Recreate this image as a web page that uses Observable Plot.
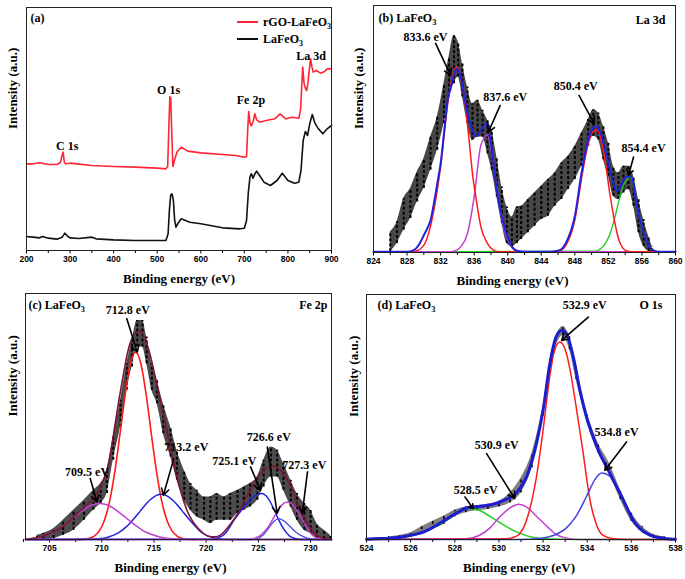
<!DOCTYPE html>
<html><head><meta charset="utf-8">
<script src="https://cdn.jsdelivr.net/npm/d3@7"></script>
<script src="https://cdn.jsdelivr.net/npm/@observablehq/plot@0.6"></script>
<style>
body{margin:0;background:#fff}
#fig{position:relative;width:685px;height:579px;background:#fff;overflow:hidden}
.panel{position:absolute}
.panel svg{overflow:visible;max-width:none;background:transparent}
g[aria-label="x-axis tick label"]{font-family:"Liberation Sans",Arial,sans-serif;font-size:8.5px;font-weight:bold}
.legend{position:absolute;font:bold 12px "Liberation Serif",serif;color:#000}
</style></head><body><div id="fig"></div>
<script>
// ---------------- data ----------------
// (a) survey spectra: [binding energy eV, intensity a.u.]
const aTicks = [200,300,400,500,600,700,800,900];
const aMinor = [250,350,450,550,650,750,850];
const aBlack = [[200,40],[215,38],[230,36],[237,40],[250,35],[270,32],[282,38],[288,50],[295,40],[300,36],[320,34],[350,38],[360,33],[400,30],[450,28],[500,28],[520,28],[525,48],[528,120],[531,165],[534,168],[537,150],[540,90],[543,68],[548,80],[555,93],[575,83],[600,78],[650,66],[690,63],[700,65],[705,88],[709,170],[713,220],[716,228],[720,215],[724,228],[728,236],[735,223],[745,203],[760,193],[775,208],[787,230],[800,208],[815,200],[825,203],[830,238],[835,328],[840,355],[845,343],[850,378],[856,406],[862,380],[870,363],[880,348],[890,363],[900,373]];
const aRed = [[200,258],[215,258],[230,261],[250,256],[270,256],[278,262],[281,280],[284,293],[287,262],[290,258],[300,260],[350,253],[400,250],[450,248],[500,245],[520,243],[524,250],[527,380],[529,460],[531,455],[533,370],[536,250],[540,270],[545,293],[555,308],[570,296],[600,291],[650,286],[680,283],[700,278],[705,280],[708,368],[710,415],[713,380],[716,372],[720,385],[724,408],[728,390],[735,383],[750,388],[770,393],[782,408],[795,393],[810,398],[825,395],[829,420],[832,500],[834,548],[837,500],[840,485],[843,478],[846,500],[849,540],[852,573],[855,550],[858,533],[865,538],[875,530],[885,536],[890,543],[900,543]];
const aPeakNames = ["C 1s","O 1s","Fe 2p","La 3d"];
const aPeakPos = [[293.6,311],[526,478],[715,448],[853,582]];

// (b) La 3d
const bTicks = [824,828,832,836,840,844,848,852,856,860];
const bMinor = [826,830,834,838,842,846,850,854,858];
const bNoise = [[826.0,0,60],[826.8,25,90],[827.6,65,160],[828.4,100,190],[829.2,150,240],[830.0,190,280],[830.8,245,345],[831.6,305,405],[832.4,385,505],[833.0,465,585],[833.6,505,650],[834.1,525,630],[834.6,465,565],[835.2,385,495],[835.8,335,445],[836.4,345,455],[837.0,345,425],[837.6,295,395],[838.1,245,365],[838.7,165,285],[839.3,85,195],[839.9,25,135],[840.5,15,105],[841.1,25,135],[841.6,37,137],[842.4,57,157],[843.2,77,177],[844.0,97,197],[844.8,107,217],[845.6,137,237],[846.4,157,267],[847.2,187,287],[848.0,217,317],[848.8,257,357],[849.6,317,397],[850.2,347,427],[850.8,337,417],[851.4,277,377],[852.0,227,327],[852.6,167,257],[853.2,157,237],[853.8,177,257],[854.4,187,257],[855.0,137,227],[855.6,57,157],[856.2,17,97],[856.8,2,47],[857.2,0,17]];
const bEnvelope = [[824,0],[828.0,0],[828.8,5],[829.5,25],[830.0,50],[830.5,75],[830.8,95],[831.3,160],[831.6,205],[832.0,265],[832.5,380],[832.9,465],[833.2,490],[833.5,525],[833.9,550],[834.3,535],[834.8,470],[835.2,415],[835.8,365],[836.2,347],[836.8,365],[837.4,385],[837.8,355],[838.1,305],[838.7,185],[839.5,85],[840.3,25],[841.1,3],[842.0,0],[845.0,0],[846.2,5],[847.0,30],[848.0,107],[848.8,237],[849.6,337],[850.2,372],[850.6,377],[851.2,347],[852.0,267],[852.5,215],[853.0,182],[853.5,200],[854.0,222],[854.7,227],[855.4,137],[856.2,57],[857.2,7],[858,0],[860,0]];
const bRed = [[824,0],[828.0,0],[829.0,2],[830.0,20],[831.0,100],[832.0,255],[832.9,455],[833.5,535],[833.9,557],[834.3,535],[834.8,465],[835.4,335],[835.8,235],[836.2,165],[836.8,75],[837.6,25],[838.3,5],[839.0,0],[845.0,0],[846.2,3],[847.0,22],[848.0,95],[848.8,220],[849.6,325],[850.2,362],[850.6,366],[851.2,330],[851.8,240],[852.2,170],[852.7,97],[853.2,40],[853.7,12],[854.3,2],[855.0,0],[860,0]];
const bMagenta = [[824,0],[833.0,0],[833.6,2],[834.4,15],[835.2,55],[836.0,165],[836.8,320],[837.55,350],[838.3,260],[838.9,160],[839.5,75],[840.3,20],[841.1,3],[842.0,0],[860,0]];
const bGreen = [[828.8,0],[850.5,2],[851.0,8],[851.5,20],[851.9,37],[852.3,62],[852.7,97],[853.3,157],[853.8,200],[854.3,220],[854.7,225],[855.4,137],[856.2,57],[857.2,7],[858,0],[860,0]];
const bNotes = ["833.6 eV","837.6 eV","850.4 eV","854.4 eV"];
const bNotePos = [[830.2,644],[839.7,464],[848.1,497],[856.2,310]];
const bArrows = [[831.4,626,833.2,530],[839.1,440,837.7,360],[848.5,470,850.3,385],[855.0,285,854.4,230]];

// (c) Fe 2p
const cTicks = [705,710,715,720,725,730];
const cMinor = [702.5,707.5,712.5,717.5,722.5,727.5];
const cNoise = [[703.8,0,13],[704.4,0,18],[705.4,3,33],[706.3,13,58],[707.3,28,88],[708.3,58,118],[709.2,88,148],[709.9,108,168],[710.5,138,208],[711.1,238,308],[711.8,338,418],[712.4,448,528],[712.9,518,598],[713.4,578,658],[713.9,578,658],[714.3,528,608],[714.8,448,528],[715.3,408,478],[715.9,318,408],[716.6,248,338],[717.2,178,268],[717.9,118,208],[718.5,88,168],[719.1,68,148],[719.8,58,128],[720.4,48,128],[721.0,58,138],[721.7,58,128],[722.3,58,138],[723.0,78,148],[723.6,88,158],[724.2,98,168],[724.9,118,188],[725.5,158,238],[726.2,188,278],[726.8,188,268],[727.4,148,228],[728.1,98,178],[728.7,58,138],[729.4,28,108],[730.0,18,88],[730.6,3,48],[731.3,0,28],[731.9,0,13]];
const cEnvelope = [[702.7,0],[703.8,6],[705.1,19],[706.0,33],[706.7,50],[707.9,85],[709.2,125],[710.2,180],[710.7,235],[711.1,310],[711.6,410],[712.1,500],[712.5,565],[712.9,605],[713.3,622],[713.7,626],[714.1,605],[714.5,570],[714.9,520],[715.3,462],[715.8,390],[716.3,318],[716.8,245],[717.2,188],[717.7,130],[718.2,85],[718.7,55],[719.1,38],[719.6,22],[720.2,10],[720.8,8],[721.4,14],[722.3,45],[723.3,92],[724.2,148],[725.2,198],[725.8,215],[726.4,220],[726.9,214],[727.4,198],[727.8,178],[728.3,145],[728.7,108],[729.2,75],[729.7,48],[730.2,25],[730.6,13],[731.1,5],[731.6,2],[732,0]];
const cRed = [[702.7,0],[707.5,0],[708.25,1],[708.75,3],[709.25,9.5],[709.75,25],[710.25,57],[710.75,114],[711.25,203],[711.75,317],[712.25,436],[712.75,528],[713.25,563],[713.75,528],[714.25,436],[714.75,317],[715.25,203],[715.75,114],[716.25,57],[716.75,25],[717.25,9.5],[717.75,3],[718.25,1],[719,0],[732,0]];
const cMagentaL = [[702.7,1],[703.8,5],[704.3,10],[704.8,15],[705.3,21],[705.8,30],[706.3,41],[706.8,53],[707.3,66],[707.8,78],[708.3,90],[708.8,100],[709.3,106],[709.8,108],[710.3,106],[710.8,100],[711.3,90],[711.8,78],[712.3,66],[712.8,53],[713.3,41],[713.8,30],[714.3,21],[714.8,15],[715.3,10],[715.8,6],[716.8,2],[717.8,0.5],[719,0]];
const cBlueL = [[702.7,0],[708,0],[710.2,4],[710.7,8],[711.2,14],[711.7,22],[712.2,34],[712.7,49],[713.2,67],[713.7,86],[714.2,105],[714.7,121],[715.2,132],[715.7,136],[716.2,132],[716.7,121],[717.2,105],[717.7,86],[718.2,67],[718.7,49],[719.2,32],[719.7,18],[720.2,10],[720.7,5],[721.2,2],[722,0],[732,0]];
const cBlueA = [[702.7,0],[720.5,1],[721.5,10],[722.0,25],[722.6,55],[723.3,85],[724.0,112],[724.6,130],[725.3,138],[725.9,125],[726.5,90],[727.0,55],[727.5,28],[728.0,10],[728.5,3],[729.2,0],[732,0]];
const cBlueB = [[702.7,0],[724.3,0],[724.9,3],[725.5,15],[726.0,35],[726.5,55],[726.95,63],[727.5,55],[728.0,40],[728.6,22],[729.2,10],[729.8,3],[730.4,0],[732,0]];
const cMagentaR = [[702.7,0],[724.0,0],[724.6,3],[725.3,15],[726.0,40],[726.5,68],[727.0,95],[727.8,113],[728.4,100],[729.0,70],[729.6,38],[730.2,12],[730.8,3],[731.5,0],[732,0]];
const cNotes = ["712.8 eV","709.5 eV","713.2 eV","725.1 eV","726.6 eV","727.3 eV"];
const cNotePos = [[712.5,688],[708.6,203],[718.1,278],[722.7,236],[726.0,308],[729.4,223]];
const cArrows = [[712.4,663,713.4,563],[708.9,183,709.55,113],[716.9,243,715.9,133],[724.25,218,725.2,148],[725.85,278,726.8,78],[729.7,203,729.2,78]];

// (d) O 1s
const dTicks = [524,526,528,530,532,534,536,538];
const dMinor = [525,527,529,531,533,535,537];
const dNoise = [[525.0,0,8],[525.5,2,12],[526.0,8,20],[526.5,15,38],[527.0,30,55],[527.5,45,70],[528.0,68,88],[528.5,80,98],[529.0,86,102],[529.5,90,106],[530.0,98,115],[530.5,110,140],[531.0,140,185],[531.5,215,260],[532.0,370,400],[532.5,560,590],[532.9,612,640],[533.2,570,610],[533.5,480,520],[534.0,350,380],[534.5,260,290],[535.0,200,230],[535.5,120,150],[536.0,55,80],[536.5,20,38],[537.0,5,15],[537.5,0,8]];
const dEnvelope = [[524,1],[524.3,2],[525.06,4],[525.8,10],[526.6,23],[527.3,48],[528.1,80],[528.5,94],[529.1,99],[529.7,105],[530.3,120],[530.8,140],[531.25,188],[531.7,288],[532.0,388],[532.3,525],[532.6,610],[532.84,628],[533.06,618],[533.37,548],[533.67,448],[533.97,368],[534.27,308],[534.57,258],[534.88,218],[535.18,178],[535.48,140],[535.78,98],[536.08,58],[536.39,33],[536.84,13],[537.3,5],[537.9,1],[538,1]];
const dRed = [[524,0],[530.3,2],[530.8,10],[531.25,58],[531.7,188],[532.0,328],[532.3,488],[532.5,563],[532.76,593],[532.99,573],[533.2,518],[533.5,398],[533.8,268],[534.1,128],[534.4,48],[534.7,13],[535.2,2],[535.8,0],[538,0]];
const dMagenta = [[524,0],[528.5,2],[529.1,12],[529.6,35],[530.0,65],[530.5,95],[530.9,106],[531.25,98],[531.7,70],[532.2,38],[532.6,15],[533.06,4],[533.7,0],[538,0]];
const dGreen = [[524,0],[525.06,3],[525.8,8],[526.6,22],[527.3,45],[527.9,70],[528.6,93],[529.1,88],[529.7,65],[530.3,40],[530.9,20],[531.5,7],[532.2,2],[533.4,0],[538,0]];
const dBlue = [[524,0],[531.0,0],[531.85,3],[532.46,12],[533.06,35],[533.5,70],[533.97,130],[534.35,180],[534.65,200],[535.03,190],[535.48,140],[535.93,80],[536.39,33],[536.84,13],[537.44,3],[538,0]];
const dNotes = ["532.9 eV","534.8 eV","530.9 eV","528.5 eV"];
const dNotePos = [[533.89,703],[535.33,323],[529.9,283],[528.95,148]];
const dArrows = [[534.05,668,532.84,598],[535.78,293,534.8,208],[529.44,258,530.72,123],[528.46,128,528.83,93]];

// ---------------- helpers ----------------
const serif = '"Liberation Serif","Times New Roman",serif';
const sans = '"Liberation Sans",Arial,sans-serif';
const RED = "#ff1a1a", MAG = "#c040d0", BLUE = "#2222dd", GREEN = "#22cc22", MAROON = "#7d1436";
const xy = arr => arr.map(([x, y]) => ({x, y}));
const band = arr => arr.map(([x, lo, hi]) => ({x, lo, hi}));
const notes = (txt, pos) => txt.map((t, i) => ({t, x: pos[i][0], y: pos[i][1]}));
const arrows = arr => arr.map(([x1, y1, x2, y2]) => ({x1, y1, x2, y2}));

function line(arr, stroke, w, curve = "monotone-x") {
  return Plot.line(xy(arr), {x: "x", y: "y", stroke, strokeWidth: w, curve});
}
function noise(arr, opacity, w) {
  return [
    Plot.areaY(band(arr), {x: "x", y1: "lo", y2: "hi", fill: "#000", fillOpacity: opacity, curve: "monotone-x"}),
    Plot.ruleX(band(arr), {x: "x", y1: "lo", y2: "hi", stroke: "#000", strokeWidth: w, strokeDasharray: "3,2"})
  ];
}
function axes(major, minor) {
  return [
    Plot.axisX({ticks: minor, tickSize: 3, tickFormat: () => "", label: null}),
    Plot.axisX({ticks: major, tickSize: 3.5, tickPadding: 2, label: null, fontFamily: sans, fontWeight: "bold", fontSize: 8.5})
  ];
}
function common(ylabDx, xlabDx) {
  return [
    Plot.frame({stroke: "#222", strokeWidth: 1}),
    Plot.text(["Intensity (a.u.)"], {text: d => d, frameAnchor: "left", rotate: -90, dx: ylabDx, fontFamily: serif, fontWeight: "bold", fontSize: 13, lineAnchor: "middle"}),
    Plot.text(["Binding energy (eV)"], {text: d => d, frameAnchor: "bottom", dy: 28, dx: xlabDx, fontFamily: serif, fontWeight: "bold", fontSize: 13, lineAnchor: "middle"})
  ];
}
function corner(txt, anchor, dx, dy) {
  return Plot.text([txt], {text: d => d, frameAnchor: anchor, dx, dy, lineAnchor: "middle",
    textAnchor: anchor.endsWith("left") ? "start" : "end", fontFamily: serif, fontWeight: "bold", fontSize: 12});
}
function annotate(txt, pos, arr) {
  return [
    Plot.arrow(arrows(arr), {x1: "x1", y1: "y1", x2: "x2", y2: "y2", stroke: "#000", strokeWidth: 1.6, headLength: 7}),
    Plot.text(notes(txt, pos), {x: "x", y: "y", text: "t", fontFamily: serif, fontWeight: "bold", fontSize: 12, lineAnchor: "middle"})
  ];
}
function fixSub(el) {
  const s = el.textContent;
  if (!s.includes("LaFeO3")) return;
  const parts = s.split("LaFeO3");
  el.textContent = "";
  el.appendChild(document.createTextNode(parts[0] + "LaFeO"));
  const ts = document.createElementNS("http://www.w3.org/2000/svg", "tspan");
  ts.setAttribute("font-size", "0.7em");
  ts.setAttribute("dy", "0.35em");
  ts.textContent = "3";
  el.appendChild(ts);
}
const fig = document.getElementById("fig");
function mount(opts, left, top) {
  const svg = Plot.plot(opts);
  svg.querySelectorAll("text").forEach(t => {
    const spans = t.querySelectorAll("tspan");
    if (spans.length) spans.forEach(fixSub); else fixSub(t);
  });
  const d = document.createElement("div");
  d.className = "panel";
  d.style.left = left + "px"; d.style.top = top + "px";
  d.style.width = opts.width + "px"; d.style.height = opts.height + "px";
  d.appendChild(svg);
  fig.appendChild(d);
}
const baseStyle = {fontFamily: serif, fontSize: "12px", fontWeight: "bold", background: "transparent", color: "#000", overflow: "visible"};

// ---------------- (a) ----------------
mount({
  width: 342, height: 290, marginLeft: 26, marginRight: 11, marginTop: 7, marginBottom: 40,
  x: {domain: [200, 900]}, y: {domain: [-2, 727], axis: null}, style: baseStyle,
  marks: [
    ...axes(aTicks, aMinor),
    line(aBlack, "#111", 1.6, "linear"),
    line(aRed, "#ff2436", 1.6, "linear"),
    Plot.text(aPeakNames.map((t, i) => ({t, x: aPeakPos[i][0], y: aPeakPos[i][1]})), {x: "x", y: "y", text: "t", fontFamily: serif, fontWeight: "bold", fontSize: 12, lineAnchor: "middle"}),
    corner("(a)", "top-left", 4, 11),
    ...common(-14, 0)
  ]
}, 0, 0);

// ---------------- (b) ----------------
mount({
  width: 343, height: 290, marginLeft: 31, marginRight: 10, marginTop: 5, marginBottom: 38,
  x: {domain: [824, 860]}, y: {domain: [-2, 740], axis: null}, style: baseStyle,
  marks: [
    ...axes(bTicks, bMinor),
    ...noise(bNoise, 0.72, 2),
    line(bGreen, GREEN, 1.4),
    line(bMagenta, MAG, 1.5),
    line(bRed, RED, 1.5),
    line(bEnvelope, BLUE, 2),
    ...annotate(bNotes, bNotePos, bArrows),
    corner("(b) LaFeO3", "top-left", 5, 13),
    corner("La 3d", "top-right", -10, 15),
    ...common(-15, -12)
  ]
}, 342, 0);

// ---------------- (c) ----------------
mount({
  width: 342, height: 289, marginLeft: 25, marginRight: 11, marginTop: 3, marginBottom: 40,
  x: {domain: [702.7, 732]}, y: {domain: [0, 739], axis: null}, style: baseStyle,
  marks: [
    ...axes(cTicks, cMinor),
    ...noise(cNoise, 0.7, 2),
    line(cRed, RED, 1.6),
    line(cBlueL, BLUE, 1.5),
    line(cBlueA, BLUE, 1.5),
    line(cBlueB, "#4848e0", 1.3),
    line(cMagentaL, MAG, 1.5),
    line(cMagentaR, MAG, 1.5),
    line(cEnvelope, MAROON, 1.6),
    ...annotate(cNotes, cNotePos, cArrows),
    corner("(c) LaFeO3", "top-left", 3, 12),
    corner("Fe 2p", "top-right", -4, 12),
    ...common(-13, -8)
  ]
}, 0, 290);

// ---------------- (d) ----------------
mount({
  width: 343, height: 289, marginLeft: 24, marginRight: 10, marginTop: 4, marginBottom: 40,
  x: {domain: [524, 538]}, y: {domain: [0, 736], axis: null}, style: baseStyle,
  marks: [
    ...axes(dTicks, dMinor),
    ...noise(dNoise, 0.5, 1.5),
    line(dGreen, GREEN, 1.5),
    line(dMagenta, MAG, 1.5),
    line(dRed, RED, 1.5),
    line(dBlue, "#4040e0", 1.5),
    line(dEnvelope, "#1c1cd0", 3),
    ...annotate(dNotes, dNotePos, dArrows),
    corner("(d) LaFeO3", "top-left", 11, 11),
    corner("O 1s", "top-right", -13, 11),
    ...common(-13, -2)
  ]
}, 342, 290);

// ---------------- legend for (a) ----------------
const legendItems = [["rGO-LaFeO", "#ff2436", 22], ["LaFeO", "#111", 39]];
legendItems.forEach(([label, color, y]) => {
  const div = document.createElement("div");
  div.className = "legend";
  div.style.left = "237px"; div.style.top = (y - 8) + "px";
  div.innerHTML = `<svg width="22" height="16" style="vertical-align:top"><line x1="0" x2="21" y1="8" y2="8" stroke="${color}" stroke-width="2"/></svg><span style="position:relative;left:4px;top:0px;line-height:16px">${label}<sub style="font-size:8px;line-height:0">3</sub></span>`;
  fig.appendChild(div);
});
</script></body></html>
